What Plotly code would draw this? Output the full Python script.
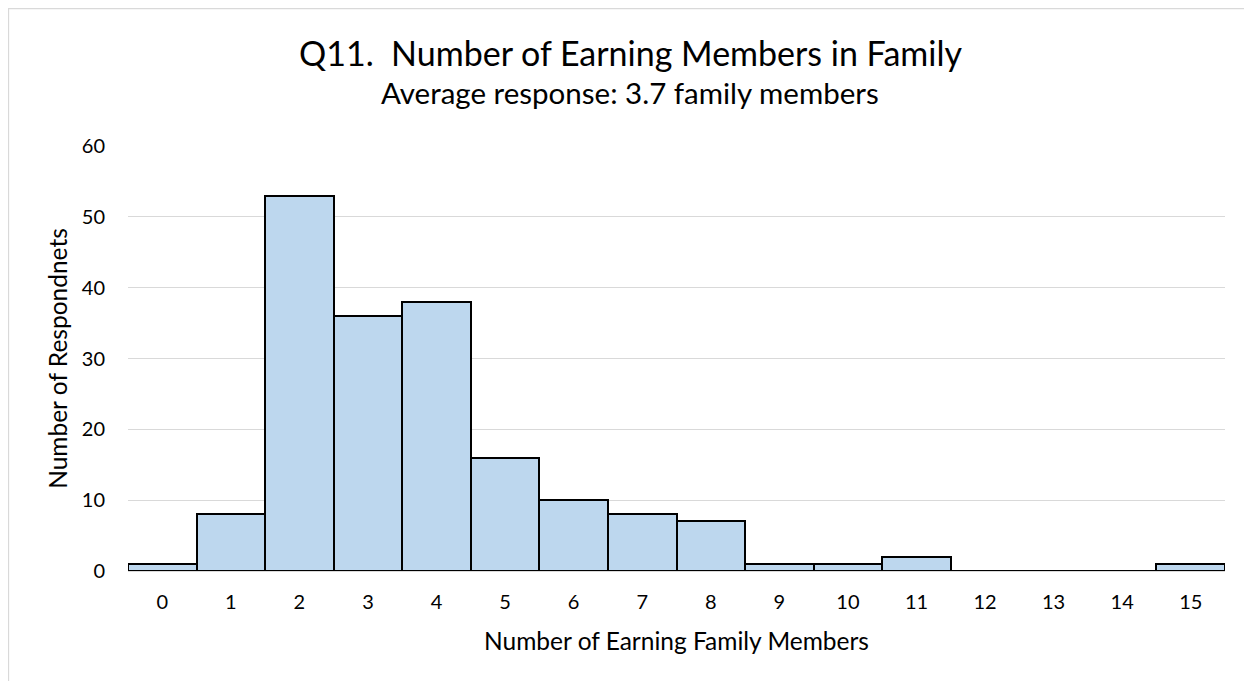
import plotly.graph_objects as go

categories = [str(i) for i in range(16)]
counts = [1, 8, 53, 36, 38, 16, 10, 8, 7, 1, 1, 2, 0, 0, 0, 1]
y_ticks = [0, 10, 20, 30, 40, 50, 60]

title_text = "Q11.  Number of Earning Members in Family"
subtitle_text = "Average response: 3.7 family members"
x_title = "Number of Earning Family Members"
y_title = "Number of Respondnets"

FONT = "Lato"
W, H = 1252, 681
OFF = 8  # page body margin offset
# target page coordinates of plot area
pl, pr, pt, pb = 127.7, 1225.5, 146, 571
ml = pl - OFF
mt = pt - OFF
mr = W - (pr - OFF)
mb = H - (pb - OFF)
pw = pr - pl
ph = pb - pt

fig = go.Figure(go.Bar(
    x=categories, y=counts,
    marker=dict(color="#bdd7ee", line=dict(color="black", width=2)),
))

def py(page_y):
    return (pb - page_y) / ph

def px(page_x):
    return (page_x - pl) / pw

fig.update_layout(
    width=W, height=H,
    margin=dict(l=ml, r=mr, t=mt, b=mb, autoexpand=False),
    paper_bgcolor="white", plot_bgcolor="white",
    bargap=0,
    showlegend=False,
    font=dict(family=FONT, color="#000000"),
    xaxis=dict(type="category", tickfont=dict(size=20, color="#000"),
               showgrid=False, showline=True, linecolor="#d9d9d9", linewidth=1,
               ticks="", ticklabelstandoff=13,
               title=dict(text=x_title, font=dict(size=24.5, color="#000"), standoff=20)),
    yaxis=dict(range=[0, 60], tickvals=y_ticks, tickfont=dict(size=20, color="#000"),
               showgrid=True, gridcolor="#d9d9d9", gridwidth=1, zeroline=False,
               ticks="", ticklabelstandoff=22,
               title=dict(text=y_title, font=dict(size=24.5, color="#000"), standoff=7)),
    annotations=[
        dict(text=title_text, x=px(630.5), xref="paper", y=py(52), yref="paper",
             xanchor="center", yanchor="middle", showarrow=False,
             font=dict(size=34, color="#000", family=FONT)),
        dict(text=subtitle_text, x=px(630), xref="paper", y=py(92), yref="paper",
             xanchor="center", yanchor="middle", showarrow=False,
             font=dict(size=29.5, color="#000", family=FONT)),
    ],
    shapes=[dict(type="rect", xref="paper", yref="paper",
                 x0=px(8), x1=px(1275), y0=py(700), y1=py(8.5),
                 line=dict(color="#d9d9d9", width=1.5), layer="below")],
)

fig.write_html("out.html")
